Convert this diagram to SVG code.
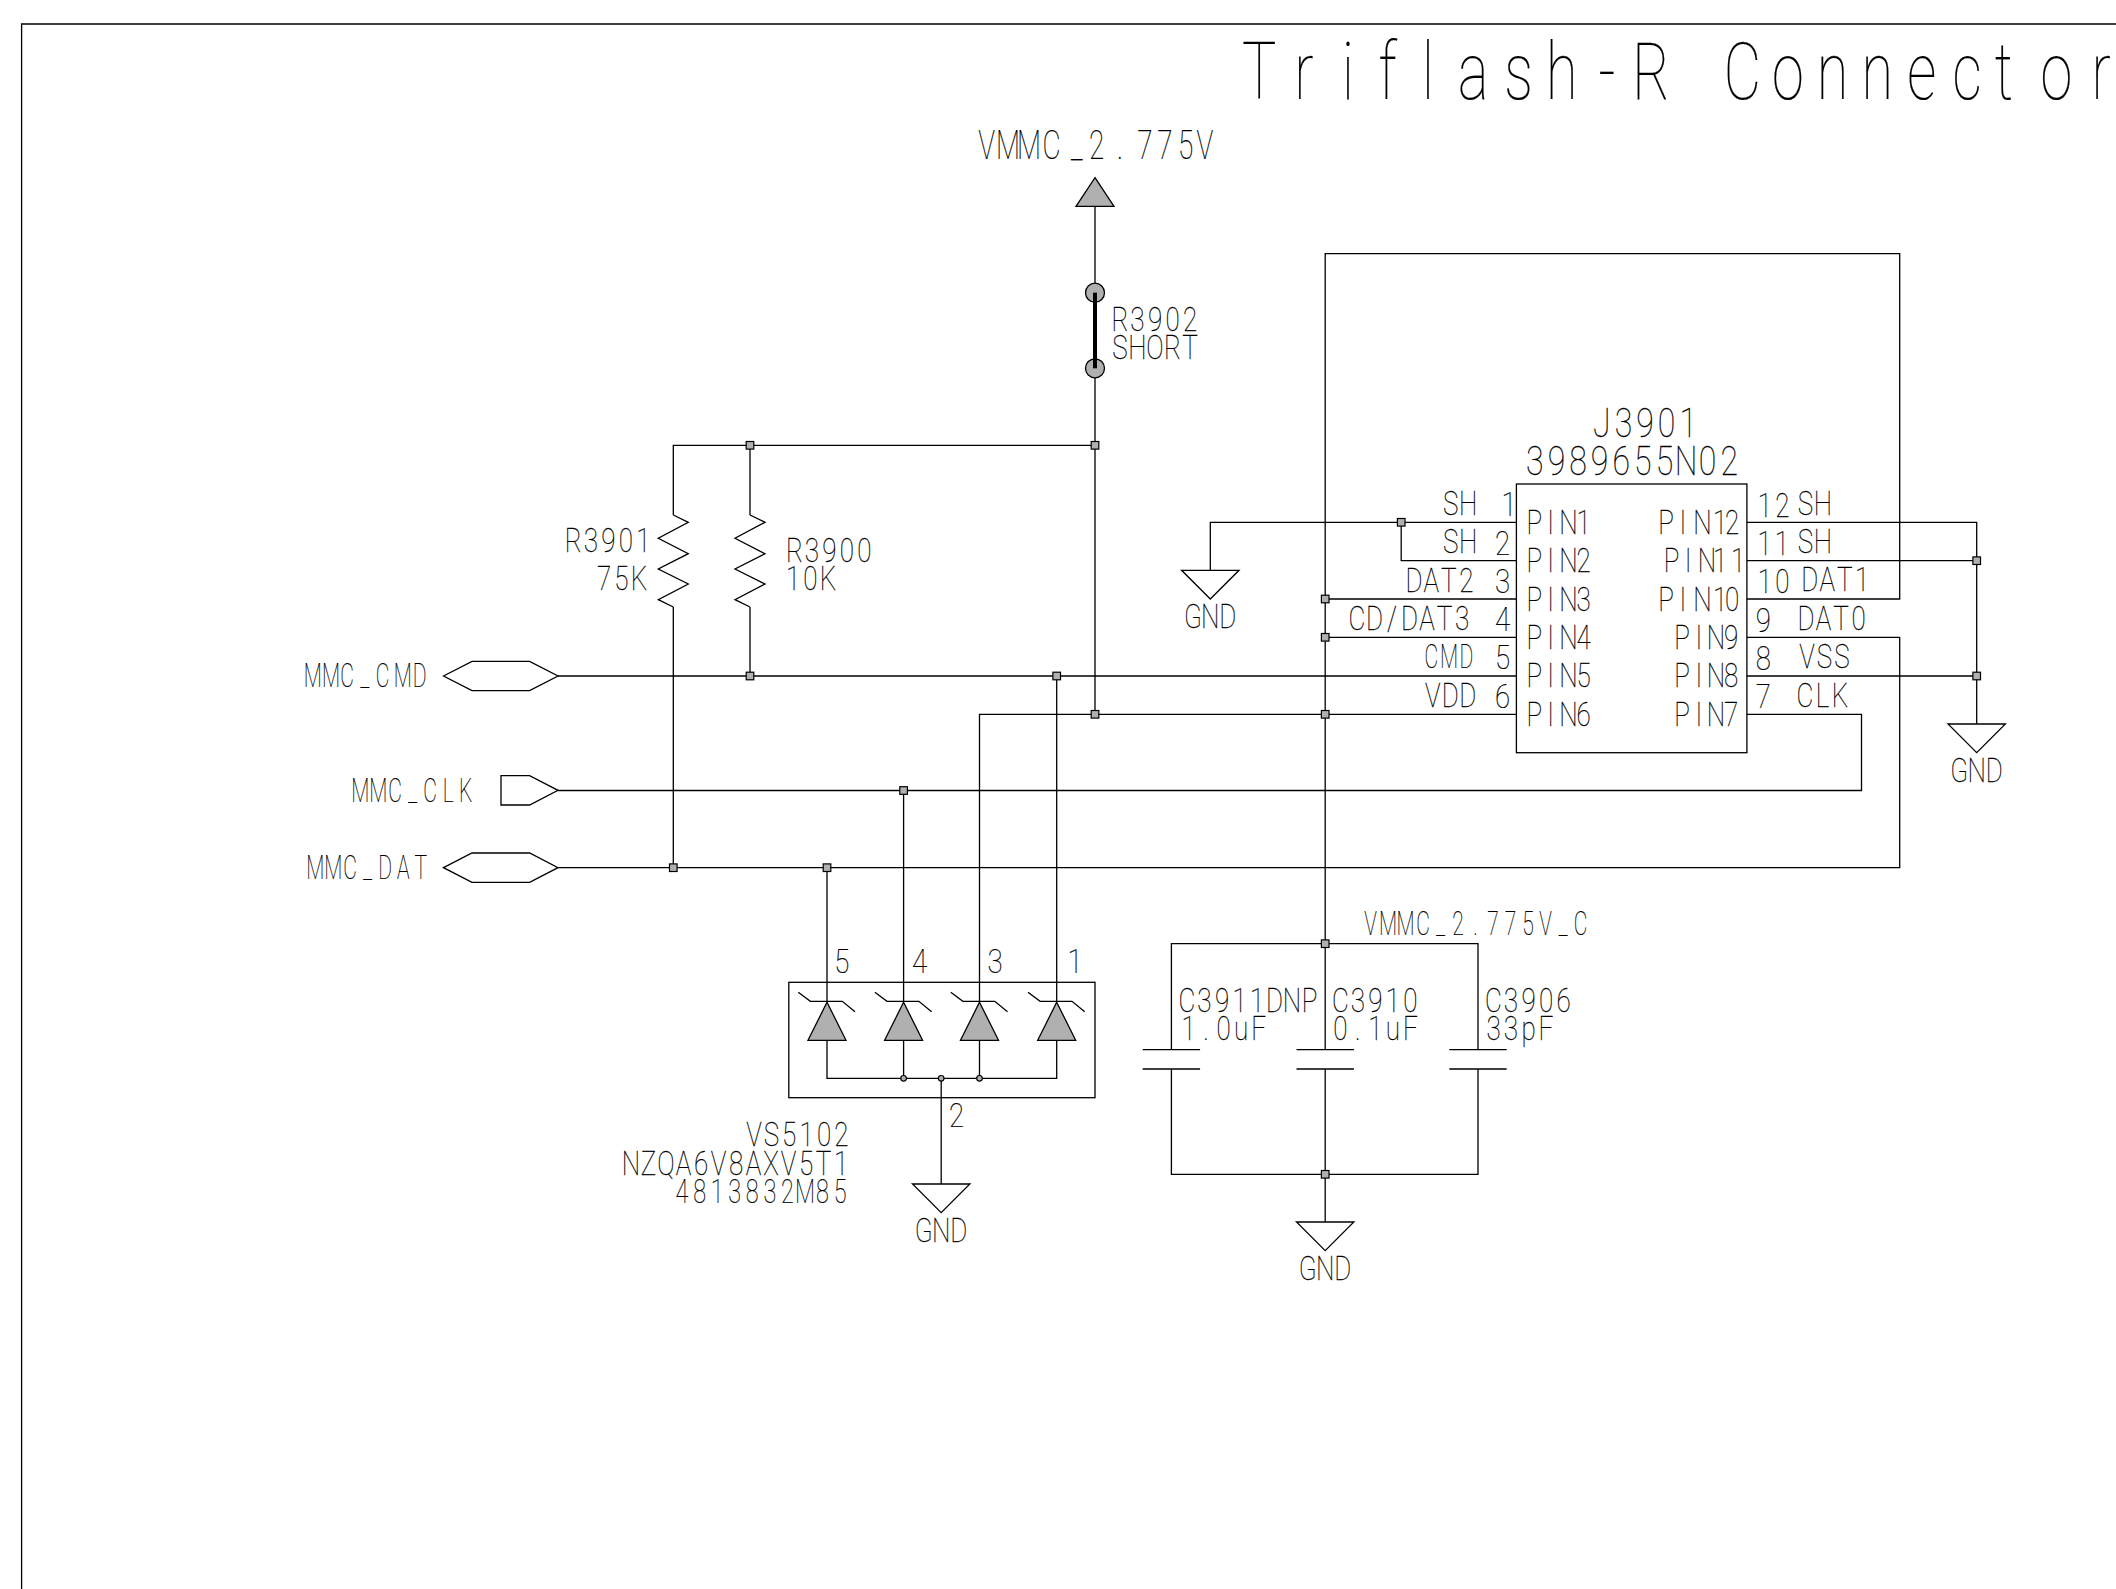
<svg xmlns="http://www.w3.org/2000/svg" width="2116" height="1589" viewBox="0 0 2116 1589">
<style>
text{font-family:"Roboto","Liberation Sans",sans-serif;font-weight:100;fill:#000;stroke:#000;stroke-width:.25;text-anchor:middle}
.s{font-size:32.5px}.m{font-size:40px}.l{font-size:80px}
.w{fill:none;stroke:#000;stroke-width:1.3}
.f{fill:#b0b0b0;stroke:#000;stroke-width:1.3}
.n{fill:none;stroke:#000;stroke-width:1.3}
.j{fill:#b0b0b0;stroke:#000;stroke-width:1.2}
</style>
<defs>
<rect id="jn" class="j" x="-3.8" y="-3.8" width="7.6" height="7.6"/>
<path id="gnd" class="n" d="M-28.7 0H28.7L0 28.7Z"/>
<path id="tvs" d="M0 0L19 38H-19Z" class="f"/>
<path id="tvsbar" class="n" d="M-28.7 -9L-16.6 0H15.3L28 10.4"/>
<path id="res" class="n" d="M0 0L15 7.3L-15 23.3L15 38.7L-15 54L15 69L-15 84.7L0 92"/>
<path id="cap" class="n" d="M-28.7 0H28.7M-28.7 19.3H28.7"/>
</defs>
<path id="border" class="w" d="M21.6 1589V24H2116"/>
<g id="title"><text class="l" transform="translate(1245 99.3) scale(.72 1)" x="19.6 81.8 143 198 254 317 380 440 503 564 627 691 754 816 878 940 1003 1054 1127 1189">Triflash-R Connector</text></g>
<g id="connectors">
<path class="w" d="M1325.2 943.7V253.7H1899.7V599H1746.9"/>
<path class="w" d="M1325.2 599H1516.4M1325.2 637.3H1516.4"/>
<path class="w" d="M558 676H1516.4"/>
<path class="w" d="M979.5 1002V714.3H1516.4"/>
<path class="w" d="M1210.3 570.3V522.3H1516.4M1401.2 522.3V560.7H1516.4"/>
<path class="w" d="M1746.9 522.3H1976.7V724M1746.9 560.7H1976.7M1746.9 676H1976.7"/>
<path class="w" d="M1746.9 714.3H1861.5V790.5H558"/>
<path class="w" d="M1746.9 637.3H1899.7V867.7H558"/>
<path class="w" d="M1095 206.3V283M1095 378V714.3"/>
<path class="w" d="M1095 445.3H673.3V515M673.3 607V867.7"/>
<path class="w" d="M750 445.3V515M750 607V676"/>
<path class="w" d="M1056.7 676V1002M903.6 790.5V1002M827 867.7V1002"/>
<path class="w" d="M827 1040.3V1078.3H1056.7V1040.3M903.6 1040.3V1078.3M979.5 1040.3V1078.3"/>
<path class="w" d="M941.2 1078.3V1184"/>
<path class="w" d="M1171.4 1049.7V943.7H1478V1049.7M1171.4 1069V1174.3H1478V1069"/>
<path class="w" d="M1325.2 943.7V1049.7M1325.2 1069V1222"/>
<g id="junctions">
<use href="#jn" x="1401.2" y="522.3"/><use href="#jn" x="1325.2" y="599"/><use href="#jn" x="1325.2" y="637.3"/><use href="#jn" x="1325.2" y="714.3"/>
<use href="#jn" x="1976.7" y="560.7"/><use href="#jn" x="1976.7" y="676"/>
<use href="#jn" x="750" y="445.3"/><use href="#jn" x="1095" y="445.3"/><use href="#jn" x="750" y="676"/><use href="#jn" x="1056.7" y="676"/>
<use href="#jn" x="1095" y="714.3"/><use href="#jn" x="903.6" y="790.5"/><use href="#jn" x="673.3" y="867.7"/><use href="#jn" x="827" y="867.7"/>
<use href="#jn" x="1325.2" y="943.7"/><use href="#jn" x="1325.2" y="1174.3"/>
</g>
</g>
<g id="VMMC_2.775V">
<path class="f" d="M1095 177.7L1114 206.3H1076Z"/>
<text class="m" transform="translate(977 159) scale(.7 1)" x="13.9 44.3 74.3 106.7 142.4 171 204.3 240 268.6 298 325.7">VMMC_2.775V</text>
</g>
<g id="R3902">
<circle class="f" cx="1095" cy="292.7" r="9.5"/><circle class="f" cx="1095" cy="368.3" r="9.5"/>
<path d="M1095 292.7V368.3" fill="none" stroke="#000" stroke-width="4"/>
<text class="s" transform="translate(1113 330.7) scale(.8 1)" x="8.8 30.6 52.5 74.4 96.3">R3902</text>
<text class="s" transform="translate(1113 359.3) scale(.8 1)" x="8.8 30.6 52.5 74.4 96.3">SHORT</text>
</g>
<g id="R3901">
<use href="#res" x="673.3" y="515"/>
<text class="s" transform="translate(566.3 552) scale(.8 1)" x="8.8 30.6 52.5 74.4 96.3">R3901</text>
<text class="s" transform="translate(597 590) scale(.8 1)" x="8.8 30.6 52.5">75K</text>
</g>
<g id="R3900">
<use href="#res" x="750" y="515"/>
<text class="s" transform="translate(787.4 562) scale(.8 1)" x="8.8 30.6 52.5 74.4 96.3">R3900</text>
<text class="s" transform="translate(786 590) scale(.8 1)" x="8.8 30.6 52.5">10K</text>
</g>
<g id="MMC_CMD">
<path class="n" d="M443.5 676L472 661.4H529.6L558 676L529.6 690.6H472Z"/>
<text class="s" transform="translate(304.7 687) scale(.648 1)" x="12.4 40.6 65.3 93 120.3 151.2 177.4">MMC_CMD</text>
</g>
<g id="MMC_CLK">
<path class="n" d="M501 775.7H529.6L558 790.3L529.6 805H501Z"/>
<text class="s" transform="translate(352.4 802) scale(.648 1)" x="12 40 66 93 120 148 175">MMC_CLK</text>
</g>
<g id="MMC_DAT">
<path class="n" d="M443.5 867.7L472 853H529.6L558 867.7L529.6 882.3H472Z"/>
<text class="s" transform="translate(307.4 879) scale(.648 1)" x="12 40 66 93 120 148 175">MMC_DAT</text>
</g>
<g id="J3901">
<rect class="n" x="1516.4" y="484" width="230.5" height="268.7"/>
<text class="m" transform="translate(1593 436.5) scale(.8 1)" x="11 38 65 92 119">J3901</text>
<text class="m" transform="translate(1526 475) scale(.8 1)" x="11 38 65 92 119 146 173 200 227 254">3989655N02</text>
<g class="pins-left">
<text class="s" transform="translate(1443.7 515) scale(.8 1)" x="8.8 30.6">SH</text>
<text class="s" transform="translate(1443.7 553.3) scale(.8 1)" x="8.8 30.6">SH</text>
<text class="s" transform="translate(1406.9 591.7) scale(.8 1)" x="8.8 30.6 52.5 74.4">DAT2</text>
<text class="s" transform="translate(1350 630) scale(.8 1)" x="8.8 30.6 52.5 74.4 96.3 118.1 140">CD/DAT3</text>
<text class="s" transform="translate(1424.3 668.3) scale(.648 1)" x="11 38 65">CMD</text>
<text class="s" transform="translate(1425.8 706.7) scale(.8 1)" x="8.8 30.6 52.5">VDD</text>
<text class="s" transform="translate(1502 516) scale(.85 1)" x="8.3">1</text>
<text class="s" transform="translate(1495.5 554.5) scale(.85 1)" x="8.3">2</text>
<text class="s" transform="translate(1495.5 592.5) scale(.85 1)" x="8.3">3</text>
<text class="s" transform="translate(1495.5 630.5) scale(.85 1)" x="8.3">4</text>
<text class="s" transform="translate(1495.5 669) scale(.85 1)" x="8.3">5</text>
<text class="s" transform="translate(1495.5 707.5) scale(.85 1)" x="8.3">6</text>
<text class="s" transform="translate(1525.7 534) scale(.8 1)" x="10.8 31.2 53.3 72.5">PIN1</text>
<text class="s" transform="translate(1525.7 572.3) scale(.8 1)" x="10.8 31.2 53.3 72.5">PIN2</text>
<text class="s" transform="translate(1525.7 610.7) scale(.8 1)" x="10.8 31.2 53.3 72.5">PIN3</text>
<text class="s" transform="translate(1525.7 649) scale(.8 1)" x="10.8 31.2 53.3 72.5">PIN4</text>
<text class="s" transform="translate(1525.7 687.3) scale(.8 1)" x="10.8 31.2 53.3 72.5">PIN5</text>
<text class="s" transform="translate(1525.7 725.7) scale(.8 1)" x="10.8 31.2 53.3 72.5">PIN6</text>
</g>
<g class="pins-right">
<text class="s" transform="translate(1657.4 534) scale(.8 1)" x="10.8 32 56.3 78.3 93.3">PIN12</text>
<text class="s" transform="translate(1657.4 572.3) scale(.8 1)" x="17.8 38.3 62 78.3 100.8">PIN11</text>
<text class="s" transform="translate(1657.4 610.7) scale(.8 1)" x="10.8 32 56.3 78.3 93.3">PIN10</text>
<text class="s" transform="translate(1657.4 649) scale(.8 1)" x="30.8 52 73.2 92">PIN9</text>
<text class="s" transform="translate(1657.4 687.3) scale(.8 1)" x="30.8 52 73.2 92">PIN8</text>
<text class="s" transform="translate(1657.4 725.7) scale(.8 1)" x="30.8 52 73.2 92">PIN7</text>
<text class="s" transform="translate(1757.8 516.7) scale(.8 1)" x="8.8 30.6">12</text>
<text class="s" transform="translate(1757.5 555) scale(.8 1)" x="8.8 30.6">11</text>
<text class="s" transform="translate(1757.8 593) scale(.8 1)" x="8.8 30.6">10</text>
<text class="s" transform="translate(1756.3 631.7) scale(.85 1)" x="8.3">9</text>
<text class="s" transform="translate(1756.3 670) scale(.85 1)" x="8.3">8</text>
<text class="s" transform="translate(1756.3 708) scale(.85 1)" x="8.3">7</text>
<text class="s" transform="translate(1798.3 515) scale(.8 1)" x="8.8 30.6">SH</text>
<text class="s" transform="translate(1798.3 553.3) scale(.8 1)" x="8.8 30.6">SH</text>
<text class="s" transform="translate(1802.7 591) scale(.8 1)" x="8.8 30.6 52.5 74.4">DAT1</text>
<text class="s" transform="translate(1799 630) scale(.8 1)" x="8.8 30.6 52.5 74.4">DAT0</text>
<text class="s" transform="translate(1800 668) scale(.8 1)" x="8.8 30.6 52.5">VSS</text>
<text class="s" transform="translate(1798 706.7) scale(.8 1)" x="8.8 30.6 52.5">CLK</text>
</g>
</g>
<g id="GND_J_left"><use href="#gnd" x="1210.3" y="570.3"/><text class="s" transform="translate(1185.8 628) scale(.8 1)" x="8.8 30.6 52.5">GND</text></g>
<g id="GND_J_right"><use href="#gnd" x="1976.7" y="724"/><text class="s" transform="translate(1952.2 782) scale(.8 1)" x="8.8 30.6 52.5">GND</text></g>
<g id="VS5102">
<rect class="n" x="788.8" y="982.3" width="306.2" height="115.4"/>
<use href="#tvs" x="827" y="1002.3"/><use href="#tvs" x="903.6" y="1002.3"/><use href="#tvs" x="979.5" y="1002.3"/><use href="#tvs" x="1056.7" y="1002.3"/>
<use href="#tvsbar" x="827" y="1001.3"/><use href="#tvsbar" x="903.6" y="1001.3"/><use href="#tvsbar" x="979.5" y="1001.3"/><use href="#tvsbar" x="1056.7" y="1001.3"/>
<circle class="j" cx="903.6" cy="1078.3" r="2.8"/><circle class="j" cx="941.2" cy="1078.3" r="2.8"/><circle class="j" cx="979.5" cy="1078.3" r="2.8"/>
<text class="s" transform="translate(834.7 973.3) scale(.85 1)" x="8.3">5</text>
<text class="s" transform="translate(912.5 973.3) scale(.85 1)" x="8.3">4</text>
<text class="s" transform="translate(988 973.3) scale(.85 1)" x="8.3">3</text>
<text class="s" transform="translate(1068 973.3) scale(.85 1)" x="8.3">1</text>
<text class="s" transform="translate(949.5 1127) scale(.85 1)" x="8.3">2</text>
<text class="s" transform="translate(747 1146) scale(.8 1)" x="8.8 30.6 52.5 74.4 96.3 118.1">VS5102</text>
<text class="s" transform="translate(624 1175) scale(.8 1)" x="8.8 30.6 52.5 74.4 96.3 118.1 140 161.9 183.8 205.6 227.5 249.4 271.3">NZQA6V8AXV5T1</text>
<text class="s" transform="translate(675 1203) scale(.72 1)" x="9.7 34.1 58.5 82.9 107.3 131.7 156.1 180.5 204.9 229.3">4813832M85</text>
</g>
<g id="GND_VS"><use href="#gnd" x="941.2" y="1184"/><text class="s" transform="translate(916.7 1242) scale(.8 1)" x="8.8 30.6 52.5">GND</text></g>
<g id="VMMC_2.775V_C"><text class="s" transform="translate(1363.4 935) scale(.648 1)" x="11 38 65 92 119 146 173 200 227 254 281 308 335">VMMC_2.775V_C</text></g>
<g id="C3911"><use href="#cap" x="1171.4" y="1049.7"/>
<text class="s" transform="translate(1180 1011.7) scale(.8 1)" x="8.8 30.6 52.5 74.4 96.3 118.1 140 161.9">C3911DNP</text>
<text class="s" transform="translate(1181.6 1040) scale(.8 1)" x="8.8 30.6 52.5 74.4 96.3">1.0uF</text></g>
<g id="C3910"><use href="#cap" x="1325.2" y="1049.7"/>
<text class="s" transform="translate(1333.4 1011.7) scale(.8 1)" x="8.8 30.6 52.5 74.4 96.3">C3910</text>
<text class="s" transform="translate(1333.4 1040) scale(.8 1)" x="8.8 30.6 52.5 74.4 96.3">0.1uF</text></g>
<g id="C3906"><use href="#cap" x="1478" y="1049.7"/>
<text class="s" transform="translate(1486.5 1011.7) scale(.8 1)" x="8.8 30.6 52.5 74.4 96.3">C3906</text>
<text class="s" transform="translate(1486.5 1040) scale(.8 1)" x="8.8 30.6 52.5 74.4">33pF</text></g>
<g id="GND_C"><use href="#gnd" x="1325.2" y="1222"/><text class="s" transform="translate(1300.7 1280) scale(.8 1)" x="8.8 30.6 52.5">GND</text></g>
</svg>
